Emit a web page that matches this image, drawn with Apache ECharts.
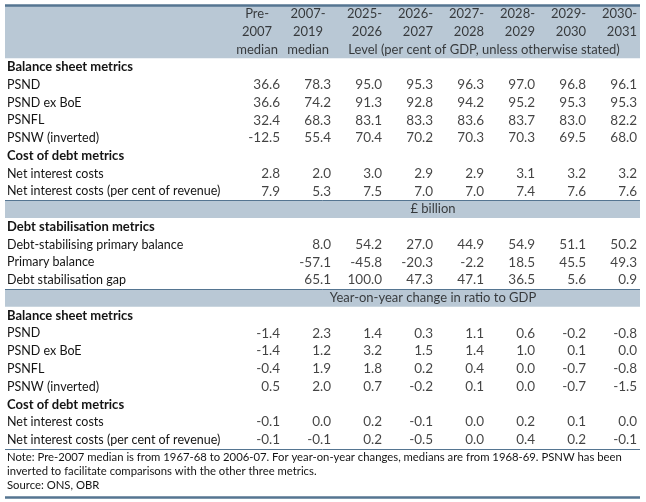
<!DOCTYPE html>
<html>
<head>
<meta charset="utf-8">
<script src="https://cdn.jsdelivr.net/npm/echarts@6/dist/echarts.min.js"></script>
<style>
  html, body { margin: 0; padding: 0; background: #fff; }
  #main { width: 646px; height: 502px; }
</style>
</head>
<body>
<div id="main"></div>
<script>
var headTop = ['Pre-', '2007-', '2025-', '2026-', '2027-', '2028-', '2029-', '2030-'];
var headMid = ['2007', '2019', '2026', '2027', '2028', '2029', '2030', '2031'];
var headLow = ['median', 'median'];
var levelNote = 'Level (per cent of GDP, unless otherwise stated)';
var billionNote = '£ billion';
var changeNote = 'Year-on-year change in ratio to GDP';

// level, per cent of GDP
var psnd = [36.6, 78.3, 95.0, 95.3, 96.3, 97.0, 96.8, 96.1];
var psndExBoe = [36.6, 74.2, 91.3, 92.8, 94.2, 95.2, 95.3, 95.3];
var psnfl = [32.4, 68.3, 83.1, 83.3, 83.6, 83.7, 83.0, 82.2];
var psnw = [-12.5, 55.4, 70.4, 70.2, 70.3, 70.3, 69.5, 68.0];
var netInterest = [2.8, 2.0, 3.0, 2.9, 2.9, 3.1, 3.2, 3.2];
var netInterestRev = [7.9, 5.3, 7.5, 7.0, 7.0, 7.4, 7.6, 7.6];
// £ billion
var debtStabPB = [null, 8.0, 54.2, 27.0, 44.9, 54.9, 51.1, 50.2];
var primaryBal = [null, -57.1, -45.8, -20.3, -2.2, 18.5, 45.5, 49.3];
var stabGap = [null, 65.1, 100.0, 47.3, 47.1, 36.5, 5.6, 0.9];
// year-on-year change
var psndChg = [-1.4, 2.3, 1.4, 0.3, 1.1, 0.6, -0.2, -0.8];
var psndExBoeChg = [-1.4, 1.2, 3.2, 1.5, 1.4, 1.0, 0.1, 0.0];
var psnflChg = [-0.4, 1.9, 1.8, 0.2, 0.4, 0.0, -0.7, -0.8];
var psnwChg = [0.5, 2.0, 0.7, -0.2, 0.1, 0.0, -0.7, -1.5];
var netInterestChg = [-0.1, 0.0, 0.2, -0.1, 0.0, 0.2, 0.1, 0.0];
var netInterestRevChg = [-0.1, -0.1, 0.2, -0.5, 0.0, 0.4, 0.2, -0.1];

var notes = [
  'Note: Pre-2007 median is from 1967-68 to 2006-07. For year-on-year changes, medians are from 1968-69. PSNW has been',
  'inverted to facilitate comparisons with the other three metrics.',
  'Source: ONS, OBR'
];

// rows top to bottom: [label, values, bold]
var rows = [
  ['', null], ['', null], ['', null],
  ['Balance sheet metrics', null, true],
  ['PSND', psnd],
  ['PSND ex BoE', psndExBoe],
  ['PSNFL', psnfl],
  ['PSNW (inverted)', psnw],
  ['Cost of debt metrics', null, true],
  ['Net interest costs', netInterest],
  ['Net interest costs (per cent of revenue)', netInterestRev],
  ['', null],
  ['Debt stabilisation metrics', null, true],
  ['Debt-stabilising primary balance', debtStabPB],
  ['Primary balance', primaryBal],
  ['Debt stabilisation gap', stabGap],
  ['', null],
  ['Balance sheet metrics', null, true],
  ['PSND', psndChg],
  ['PSND ex BoE', psndExBoeChg],
  ['PSNFL', psnflChg],
  ['PSNW (inverted)', psnwChg],
  ['Cost of debt metrics', null, true],
  ['Net interest costs', netInterestChg],
  ['Net interest costs (per cent of revenue)', netInterestRevChg],
  // room for the notes block
  ['', null], ['', null], ['', null]
];
var nRows = rows.length;

var FONT = 'Lato';
var TXT = '#141414';
var BAND = '#b9c8d5';
var RULE = '#557591';

var cellData = [];
rows.forEach(function (r, ri) {
  if (!r[1]) return;
  r[1].forEach(function (v, ci) {
    if (v === null) return;
    cellData.push([ci + 1, ri + 0.5, v.toFixed(1)]);
  });
});

var centreHead = [];
var rightHead = [];
headTop.forEach(function (t, ci) {
  if (ci < 2) {
    centreHead.push([ci + 0.55, 0.5, t]);
    centreHead.push([ci + 0.55, 1.5, headMid[ci]]);
    centreHead.push([ci + 0.55, 2.5, headLow[ci]]);
  } else {
    rightHead.push([ci + 1, 0.5, t]);
    rightHead.push([ci + 1, 1.5, headMid[ci]]);
  }
});
centreHead.push([5, 2.5, levelNote]);
centreHead.push([4, 11.5, billionNote]);
centreHead.push([4, 16.5, changeNote]);

function textSeries(data, pos, size) {
  return {
    type: 'scatter',
    xAxisIndex: 1,
    yAxisIndex: 1,
    symbolSize: 0,
    silent: true,
    data: data,
    z: 5,
    label: {
      show: true,
      position: pos,
      distance: 0,
      fontFamily: FONT,
      fontSize: size,
      color: TXT,
      formatter: function (p) { return p.data[2]; }
    }
  };
}

var chart = echarts.init(document.getElementById('main'), null, { renderer: 'canvas' });
chart.setOption({
  animation: false,
  title: {
    text: notes.join('\n'),
    left: 7,
    top: 450,
    padding: 0,
    textStyle: {
      fontFamily: FONT,
      fontSize: 11.3,
      fontWeight: 'normal',
      lineHeight: 14,
      color: TXT
    }
  },
  grid: [
    { left: 5, right: 6, top: 5, bottom: 0, outerBoundsMode: 'none', containLabel: false },
    { left: 229, right: 9, top: 5, bottom: 0, outerBoundsMode: 'none', containLabel: false }
  ],
  xAxis: [
    { gridIndex: 0, type: 'value', min: 0, max: 1, show: false },
    { gridIndex: 1, type: 'value', min: 0, max: 8, show: false }
  ],
  yAxis: [
    { gridIndex: 0, type: 'value', min: 0, max: nRows, inverse: true, show: false },
    { gridIndex: 1, type: 'value', min: 0, max: nRows, inverse: true, show: false, position: 'right' },
    {
      gridIndex: 1,
      type: 'category',
      position: 'left',
      inverse: true,
      data: rows.map(function (r) { return r[0]; }),
      axisLine: { show: false },
      axisTick: { show: false },
      splitLine: { show: false },
      axisLabel: {
        interval: 0,
        align: 'left',
        margin: 222,
        fontFamily: FONT,
        fontSize: 12.5,
        color: TXT,
        hideOverlap: false,
        formatter: function (v, i) {
          return rows[i][2] ? '{b|' + v + '}' : v;
        },
        rich: {
          b: { fontFamily: FONT, fontSize: 13, fontWeight: 'bold', color: TXT }
        }
      }
    }
  ],
  series: [
    {
      type: 'line',
      xAxisIndex: 0,
      yAxisIndex: 0,
      data: [[0, 0]],
      symbol: 'none',
      silent: true,
      clip: false,
      z: 1,
      markArea: {
        silent: true,
        itemStyle: { color: BAND },
        data: [
          [{ yAxis: 0 }, { yAxis: 3 }],
          [{ yAxis: 11 }, { yAxis: 12 }],
          [{ yAxis: 16 }, { yAxis: 17 }]
        ]
      },
      markLine: {
        silent: true,
        symbol: 'none',
        label: { show: false },
        lineStyle: { color: RULE, type: 'solid', width: 1 },
        data: [
          { yAxis: 0, lineStyle: { width: 2.5 } },
          { yAxis: 11 },
          { yAxis: 16 },
          { yAxis: 25 },
          { yAxis: 27.75, lineStyle: { width: 2.5 } }
        ]
      }
    },
    {
      type: 'line',
      xAxisIndex: 1,
      yAxisIndex: 1,
      data: [],
      symbol: 'none',
      silent: true,
      clip: false,
      z: 2,
      markLine: {
        silent: true,
        symbol: 'none',
        label: { show: false },
        lineStyle: { color: RULE, type: 'solid', width: 1 },
        data: [[{ coord: [2, 2] }, { coord: [8.06, 2] }]]
      }
    },
    textSeries(cellData, 'left', 13.5),
    textSeries(rightHead, 'left', 13),
    textSeries(centreHead, 'inside', 13)
  ]
});
</script>
</body>
</html>
